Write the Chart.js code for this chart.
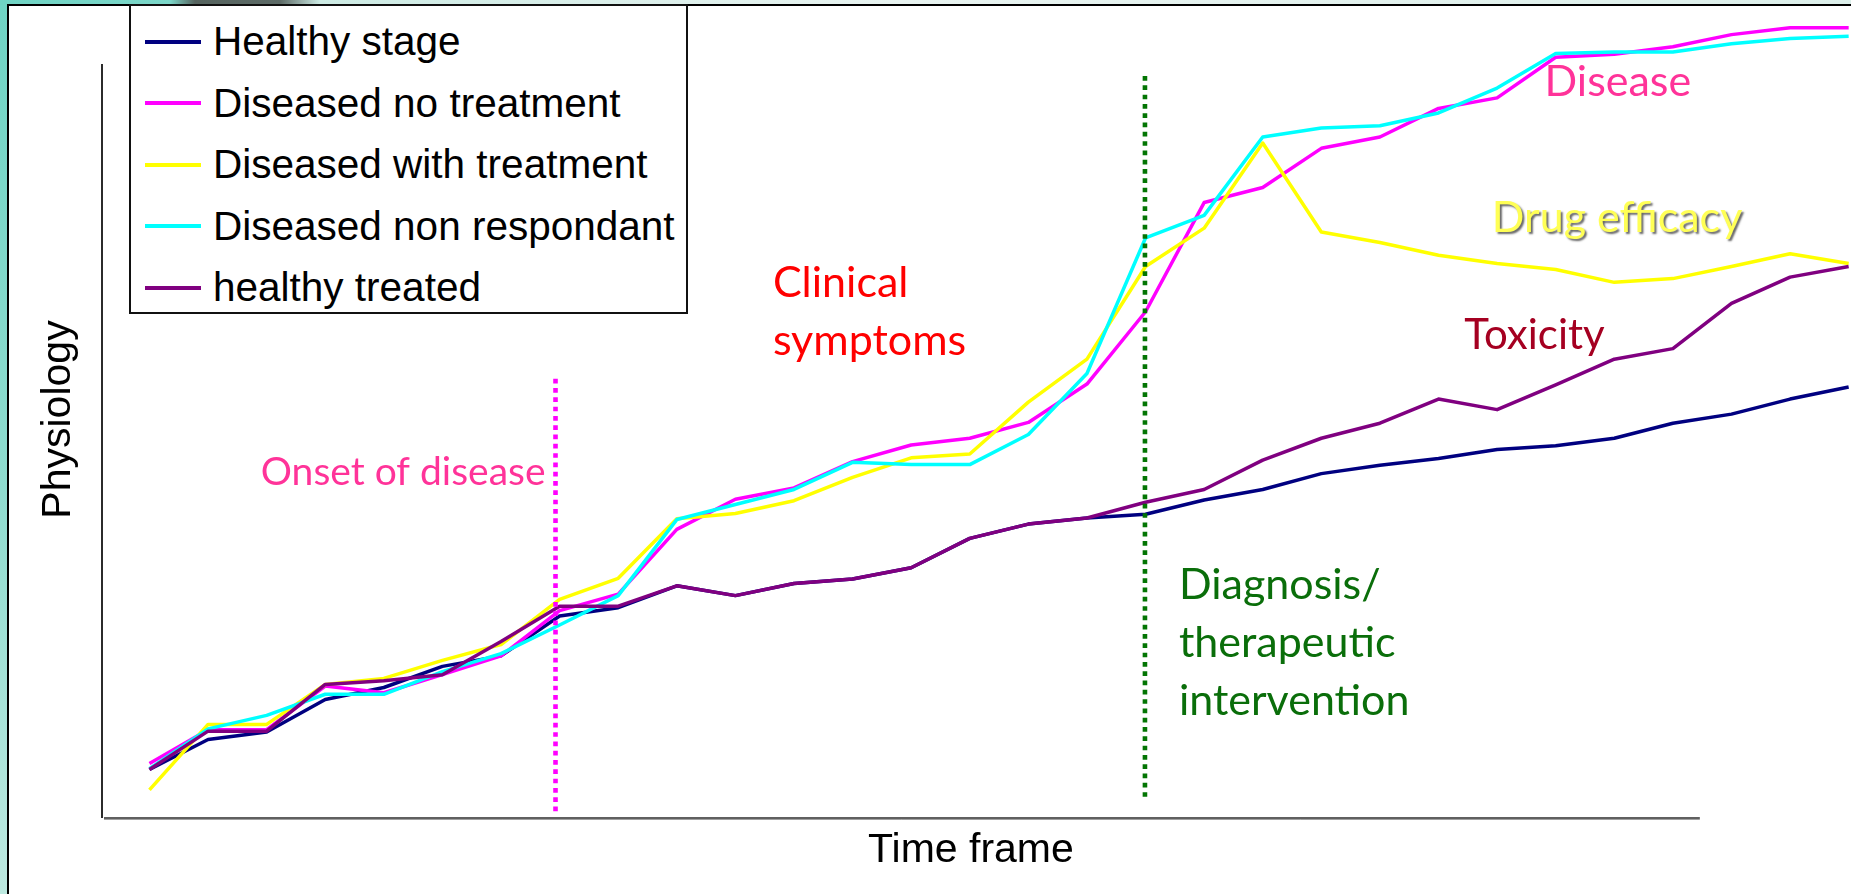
<!DOCTYPE html>
<html>
<head>
<meta charset="utf-8">
<title>Physiology over time</title>
<script src="https://cdn.jsdelivr.net/npm/chart.js@4.4.1/dist/chart.umd.min.js"></script>
<style>
  html, body { margin: 0; padding: 0; }
  body {
    width: 1851px;
    height: 894px;
    overflow: hidden;
    position: relative;
    background: linear-gradient(180deg, #6fd4c4 0%, #8fdccf 55%, #bde9e0 100%);
  }
  #topStrip {
    position: absolute; left: 0; top: 0; width: 1851px; height: 5px;
    background: linear-gradient(90deg, #6fd3c3 0px, #7cd7c9 170px, #56645f 195px, #5d6b67 280px, #cdebe4 320px, #e8f3f0 900px, #dcefea 1851px);
  }
  #panel {
    position: absolute; left: 7px; top: 4px; width: 1860px; height: 900px;
    background: #fff;
    border-left: 2px solid #000;
    border-top: 2px solid #000;
  }
  #chart { position: absolute; left: 0; top: 0; }
  #legend {
    position: absolute; left: 129px; top: 4px;
    width: 559px; height: 310px;
    box-sizing: border-box;
    border: 2px solid #111;
    background: #fff;
    padding-top: 5px;
    font-family: "Liberation Sans", Arial, sans-serif;
    font-size: 40.5px;
    color: #000;
  }
  .item { display: flex; align-items: center; height: 61.5px; }
  .swatch { width: 56px; height: 4px; margin-left: 14px; flex: none; }
  .label { margin-left: 12px; line-height: 61.5px; white-space: nowrap; }
</style>
</head>
<body>
<div id="topStrip"></div>
<div id="panel"></div>
<canvas id="chart" width="1851" height="894"></canvas>
<div id="legend"></div>
<script>
// time steps along the x axis (no tick labels in the original)
const timeSteps = [0, 1, 2, 3, 4, 5, 6, 7, 8, 9, 10, 11, 12, 13, 14, 15, 16, 17, 18, 19, 20, 21, 22, 23, 24, 25, 26, 27, 28, 29];

// physiology, arbitrary units
const healthyStage = [6.3, 10.3, 11.3, 15.6, 17.2, 20.0, 21.4, 26.7, 27.8, 30.7, 29.4, 31.0, 31.6, 33.1, 37.0, 38.9, 39.7, 40.2, 42.1, 43.5, 45.6, 46.7, 47.6, 48.8, 49.3, 50.3, 52.3, 53.5, 55.5, 57.1];
const diseasedNoTreatment = [7.1, 11.6, 11.6, 17.4, 16.5, 18.9, 21.4, 27.4, 29.6, 38.2, 42.2, 43.7, 47.2, 49.4, 50.3, 52.4, 57.5, 67.1, 81.6, 83.6, 88.8, 90.3, 94.1, 95.5, 100.9, 101.3, 102.3, 103.9, 104.8, 104.8];
const diseasedWithTreatment = [3.6, 12.3, 12.3, 17.6, 18.4, 20.8, 22.9, 28.9, 31.7, 39.6, 40.3, 42.0, 45.1, 47.7, 48.2, 55.1, 60.8, 73.1, 78.2, 89.5, 77.7, 76.3, 74.6, 73.5, 72.7, 71.0, 71.5, 73.1, 74.8, 73.5];
const diseasedNonRespondant = [6.4, 11.7, 13.5, 16.3, 16.3, 19.3, 21.7, 25.5, 29.4, 39.5, 41.5, 43.5, 47.1, 46.8, 46.8, 50.8, 58.9, 76.9, 79.9, 90.3, 91.5, 91.8, 93.5, 96.8, 101.4, 101.6, 101.6, 102.7, 103.4, 103.7];
const healthyTreated = [6.3, 11.4, 11.4, 17.6, 18.1, 18.9, 23.3, 28.0, 28.0, 30.7, 29.4, 31.0, 31.6, 33.1, 37.0, 38.9, 39.7, 41.8, 43.5, 47.4, 50.3, 52.3, 55.5, 54.1, 57.4, 60.8, 62.2, 68.2, 71.7, 73.1];

const seriesNames = ["Healthy stage", "Diseased no treatment", "Diseased with treatment", "Diseased non respondant", "healthy treated"];
const seriesValues = [healthyStage, diseasedNoTreatment, diseasedWithTreatment, diseasedNonRespondant, healthyTreated];
const seriesColors = ["#000080", "#ff00ff", "#ffff00", "#00ffff", "#800080"];

// the drawn x axis line stops short of the data, as in the original
const xAxisEnd = 26.46;

// dotted event markers: time step, vertical extent
const markers = [
  { x: 6.93, from: 0.7, to: 58.2, color: "#ff00ff" },
  { x: 16.99, from: 2.7, to: 98.4, color: "#037503" }
];

// text notes anchored on the data scales (left edge, first baseline)
const notes = [
  { lines: ["Onset of disease"], x: 1.90, y: 44.1, color: "#ff3399", size: 39 },
  { lines: ["Clinical", "symptoms"], x: 10.64, y: 69.1, color: "#ff0000", size: 43 },
  { lines: ["Diagnosis/", "therapeutic", "intervention"], x: 17.57, y: 29.0, color: "#0a6e0a", size: 43 },
  { lines: ["Disease"], x: 23.81, y: 95.7, color: "#ff3399", size: 43 },
  { lines: ["Drug efficacy"], x: 22.91, y: 77.7, color: "#ffff55", size: 43, shadow: true },
  { lines: ["Toxicity"], x: 22.44, y: 62.1, color: "#a50021", size: 42 }
];

const sketchPlugin = {
  id: "sketch",
  beforeDatasetsDraw(chart) {
    const { ctx, chartArea: a, scales: { x } } = chart;
    const right = x.getPixelForValue(xAxisEnd);
    ctx.save();
    ctx.strokeStyle = "#2b2b2b";
    ctx.lineWidth = 2;
    ctx.beginPath();
    ctx.moveTo(a.left, a.top);
    ctx.lineTo(a.left, a.bottom + 1);
    ctx.stroke();
    ctx.lineWidth = 1.5;
    ctx.beginPath();
    ctx.moveTo(a.left + 2, a.bottom + 1);
    ctx.lineTo(right, a.bottom + 1);
    ctx.stroke();
    ctx.strokeStyle = "#a0a0a0";
    ctx.lineWidth = 1;
    ctx.beginPath();
    ctx.moveTo(a.left + 2, a.bottom + 2.5);
    ctx.lineTo(right, a.bottom + 2.5);
    ctx.stroke();
    ctx.restore();
  },
  afterDatasetsDraw(chart) {
    const { ctx, chartArea: a, scales: { x, y } } = chart;
    ctx.save();

    markers.forEach(m => {
      const px = x.getPixelForValue(m.x);
      ctx.strokeStyle = m.color;
      ctx.lineWidth = 4.6;
      ctx.lineCap = "butt";
      ctx.setLineDash([4.7, 4.6]);
      ctx.beginPath();
      ctx.moveTo(px, y.getPixelForValue(m.to));
      ctx.lineTo(px, y.getPixelForValue(m.from));
      ctx.stroke();
    });
    ctx.setLineDash([]);

    ctx.textAlign = "left";
    ctx.textBaseline = "alphabetic";
    notes.forEach(n => {
      ctx.font = `${n.size}px Lato, "Open Sans", sans-serif`;
      ctx.fillStyle = n.color;
      if (n.shadow) {
        ctx.shadowColor = "rgba(0, 0, 0, 0.6)";
        ctx.shadowOffsetX = 2;
        ctx.shadowOffsetY = 2;
        ctx.shadowBlur = 2;
      }
      n.lines.forEach((line, i) => {
        ctx.fillText(line, x.getPixelForValue(n.x), y.getPixelForValue(n.y) + i * 58.3);
      });
      ctx.shadowColor = "transparent";
    });

    // axis titles
    const right = x.getPixelForValue(xAxisEnd);
    ctx.fillStyle = "#000";
    ctx.font = '41px "Liberation Sans", Arial, sans-serif';
    ctx.textAlign = "center";
    ctx.fillText("Time frame", (a.left + right) / 2 + 70, a.bottom + 45);
    ctx.translate(70, (a.top + a.bottom) / 2 - 21);
    ctx.rotate(-Math.PI / 2);
    ctx.fillText("Physiology", 0, 0);
    ctx.restore();
  }
};

const chart = new Chart(document.getElementById("chart"), {
  type: "line",
  data: {
    datasets: seriesNames.map((name, i) => ({
      label: name,
      data: timeSteps.map((t, j) => ({ x: t, y: seriesValues[i][j] })),
      borderColor: seriesColors[i],
      backgroundColor: seriesColors[i],
      borderWidth: 3.5,
      borderJoinStyle: "round",
      pointRadius: 0,
      tension: 0,
      clip: false,
      order: seriesNames.length - i
    }))
  },
  options: {
    responsive: false,
    devicePixelRatio: 1,
    animation: false,
    events: [],
    layout: { padding: { left: 102, top: 64, right: 0, bottom: 77 } },
    plugins: {
      legend: { display: false },
      tooltip: { enabled: false }
    },
    scales: {
      x: { type: "linear", min: -0.81, max: 29.04, display: false },
      y: { type: "linear", min: 0, max: 100, display: false }
    }
  },
  plugins: [sketchPlugin]
});

document.getElementById("legend").innerHTML = chart.data.datasets.map(ds => `
  <div class="item">
    <span class="swatch" style="background-color: ${ds.borderColor}"></span>
    <span class="label">${ds.label}</span>
  </div>
`).join("");
</script>
</body>
</html>
